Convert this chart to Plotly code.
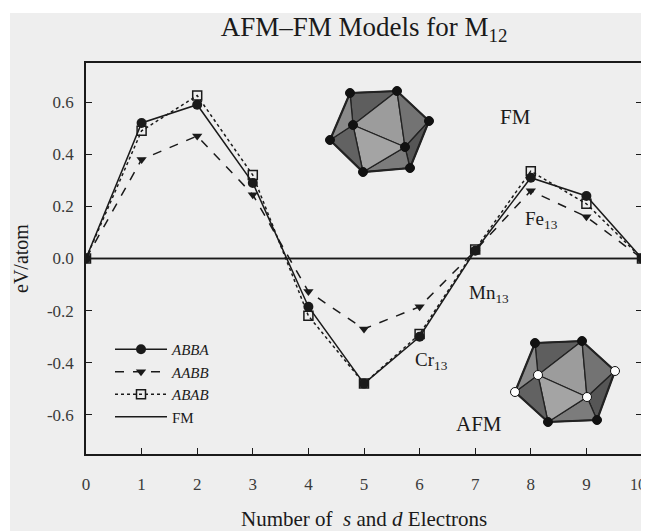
import plotly.graph_objects as go

# ---------------- data ----------------
electrons = [0, 1, 2, 3, 4, 5, 6, 7, 8, 9, 10]
abba = [0.0, 0.52, 0.59, 0.29, -0.185, -0.48, -0.30, 0.03, 0.31, 0.24, 0.0]
aabb = [0.0, 0.38, 0.47, 0.245, -0.127, -0.27, -0.185, 0.03, 0.26, 0.16, 0.0]
abab = [0.0, 0.49, 0.625, 0.32, -0.22, -0.48, -0.29, 0.035, 0.335, 0.21, 0.0]
fm_line = [0.0, 0.0, 0.0, 0.0, 0.0, 0.0, 0.0, 0.0, 0.0, 0.0, 0.0]

ytick_vals = [-0.6, -0.4, -0.2, 0.0, 0.2, 0.4, 0.6]
ytick_text = ["-0.6", "-0.4", "-0.2", "0.0", "0.2", "0.4", "0.6"]
xtick_vals = [0, 1, 2, 3, 4, 5, 6, 7, 8, 9, 10]
xtick_text = ["0", "1", "2", "3", "4", "5", "6", "7", "8", "9", "10"]

# ---------------- layout geometry ----------------
OFF = 8                       # page body margin of the browser
W, H = 649 - OFF, 531 - OFF   # figure size
PL, PT, PR, PB = 86, 63, 642, 454   # plot area in window pixels
L, T = PL - OFF, PT - OFF
R, B = W - (PR - OFF), H - (PB - OFF)
X0, X1 = 0, 10
Y0, Y1 = -0.75, 0.75
pw = PR - PL
ph = PB - PT
SERIF = "Liberation Serif"
INK = "#1a1a1a"
TICKINK = "#3a3a3a"


def P(px, py):
    """window pixel -> data coordinates (decorative drawings only)"""
    x = X0 + (px - PL) / pw * (X1 - X0)
    y = Y1 - (py - PT) / ph * (Y1 - Y0)
    return x, y


def pxp(px):
    return (px - PL) / pw


def pyp(py):
    return (PB - py) / ph


fig = go.Figure()

fig.add_trace(go.Scatter(
    x=electrons, y=fm_line, mode="lines", name="FM",
    line=dict(color=INK, width=1.6), showlegend=False))
fig.add_trace(go.Scatter(
    x=electrons, y=abba, mode="lines+markers", name="<i>ABBA</i>",
    line=dict(color=INK, width=1.5, dash="solid"),
    marker=dict(symbol="circle", size=10, color=INK)))
fig.add_trace(go.Scatter(
    x=electrons, y=aabb, mode="lines+markers", name="<i>AABB</i>",
    line=dict(color=INK, width=1.5, dash="dash"),
    marker=dict(symbol="triangle-down", size=9, color=INK)))
fig.add_trace(go.Scatter(
    x=electrons, y=abab, mode="lines+markers", name="<i>ABAB</i>",
    line=dict(color=INK, width=1.5, dash="dot"),
    marker=dict(symbol="square-open", size=9, color=INK, line=dict(width=1.5))))
fig.add_trace(go.Scatter(
    x=electrons, y=fm_line, mode="lines", name="FM",
    line=dict(color=INK, width=1.6), showlegend=True))

shapes = []
# white strip at top and left of the scanned page
shapes.append(dict(type="rect", xref="paper", yref="paper",
                   x0=pxp(0), x1=pxp(660), y0=pyp(13), y1=pyp(-5),
                   fillcolor="white", line=dict(width=0), layer="below"))
shapes.append(dict(type="rect", xref="paper", yref="paper",
                   x0=pxp(-5), x1=pxp(10), y0=pyp(H + 20), y1=pyp(-5),
                   fillcolor="white", line=dict(width=0), layer="below"))


def icosahedron(outer, inner, vcolors):
    tris = [(0, 1, 6), (1, 7, 6), (1, 2, 7), (2, 3, 7),
            (3, 4, 7), (4, 6, 7), (4, 5, 6), (5, 0, 6)]
    shades = ["#5e5e5e", "#9c9c9c", "#737373", "#565656",
              "#7c7c7c", "#a4a4a4", "#626262", "#8a8a8a"]
    pts = outer + inner
    for t, c in zip(tris, shades):
        path = ""
        for k, idx in enumerate(t):
            x, y = P(*pts[idx])
            path += ("M" if k == 0 else "L") + f"{x},{y} "
        path += "Z"
        shapes.append(dict(type="path", xref="x", yref="y", path=path,
                           fillcolor=c, line=dict(color="#222222", width=1.3)))
    path = ""
    for k, p in enumerate(outer):
        x, y = P(*p)
        path += ("M" if k == 0 else "L") + f"{x},{y} "
    path += "Z"
    shapes.append(dict(type="path", xref="x", yref="y", path=path,
                       line=dict(color="#222222", width=2.2)))
    for p, vc in zip(pts, vcolors):
        r = 4.5
        xa, ya = P(p[0] - r, p[1] + r)
        xb, yb = P(p[0] + r, p[1] - r)
        shapes.append(dict(type="circle", xref="x", yref="y",
                           x0=xa, y0=ya, x1=xb, y1=yb,
                           fillcolor=vc, line=dict(color="#111111", width=1)))


icosahedron([(350, 93), (397, 91), (429, 121), (410, 168), (363, 172), (330, 140)],
            [(353, 125), (405, 147)],
            ["#111111"] * 8)
icosahedron([(535, 343), (582, 341), (615, 371), (597, 420), (548, 422), (515, 392)],
            [(538, 375), (587, 397)],
            ["#111111", "#111111", "white", "#111111", "#111111", "white", "white", "white"])

annotations = []


def label(text, px, py, size):
    x, y = P(px, py)
    annotations.append(dict(text=text, x=x, y=y, xref="x", yref="y",
                            showarrow=False,
                            font=dict(family=SERIF, size=size, color=INK),
                            xanchor="center", yanchor="middle"))


label("FM", 515, 117, 21)
label("Fe<sub>13</sub>", 541, 220, 19)
label("Mn<sub>13</sub>", 489, 294, 19)
label("Cr<sub>13</sub>", 431, 361, 19)
label("AFM", 479, 424, 21)

# the last x tick label would run past the page edge (plotly drops it), so it
# is written as an annotation anchored at the right page edge
annotations.append(dict(text=xtick_text[-1], x=1.0, y=pyp(484),
                        xref="paper", yref="paper", showarrow=False,
                        xanchor="right", yanchor="middle", xshift=6,
                        font=dict(family=SERIF, size=16, color=TICKINK)))

annotations.append(dict(text="Number of  <i>s</i> and <i>d</i> Electrons",
                        x=pxp(364), y=pyp(519), xref="paper", yref="paper",
                        showarrow=False, xanchor="center", yanchor="middle",
                        font=dict(family=SERIF, size=21, color=INK)))
annotations.append(dict(text="eV/atom", textangle=-90,
                        x=pxp(21), y=pyp(259), xref="paper", yref="paper",
                        showarrow=False, xanchor="center", yanchor="middle",
                        font=dict(family=SERIF, size=20, color=INK)))

fig.update_layout(
    width=W, height=H,
    margin=dict(l=L, r=R, t=T, b=B, autoexpand=False),
    paper_bgcolor="#eeeeee", plot_bgcolor="#eeeeee",
    title=dict(text="AFM\u2013FM Models for M<sub>12</sub>",
               x=0.5, xref="paper", y=1 - (27 - OFF) / H, yref="container",
               xanchor="center", yanchor="middle",
               font=dict(family=SERIF, size=27, color=INK)),
    shapes=shapes, annotations=annotations,
    showlegend=True,
    legend=dict(x=pxp(110), y=pyp(333), xanchor="left", yanchor="top",
                bgcolor="rgba(0,0,0,0)", borderwidth=0,
                font=dict(family=SERIF, size=15, color=INK),
                itemwidth=52, tracegroupgap=0),
    xaxis=dict(range=[X0, X1], tickvals=xtick_vals[:-1], ticktext=xtick_text[:-1],
               ticks="inside", ticklen=6,
               tickwidth=1.2, tickcolor=INK, showline=True, linecolor=INK,
               linewidth=1.5, mirror=True, showgrid=False, zeroline=False,
               tickfont=dict(family=SERIF, size=17, color=TICKINK),
               ticklabelstandoff=14),
    yaxis=dict(range=[Y0, Y1], tickvals=ytick_vals, ticktext=ytick_text,
               ticks="inside", ticklen=6, tickwidth=1.2, tickcolor=INK,
               showline=True, linecolor=INK, linewidth=1.5, mirror="ticks",
               showgrid=False, zeroline=False,
               tickfont=dict(family=SERIF, size=17, color=TICKINK),
               ticklabelstandoff=7),
)

fig.write_html("out.html")
